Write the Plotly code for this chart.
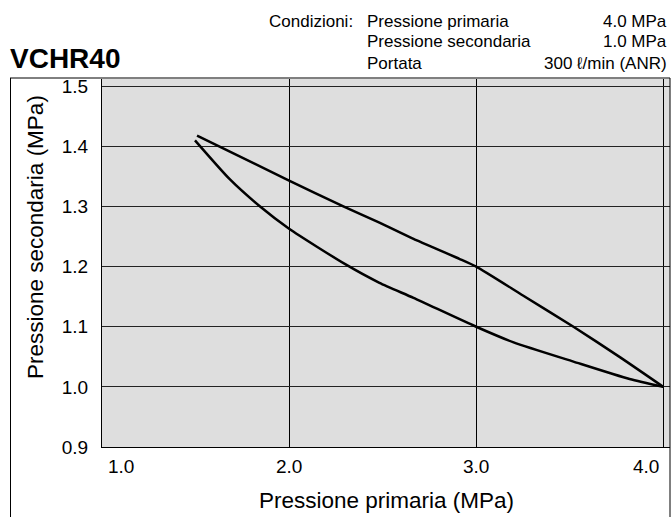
import plotly.graph_objects as go

# Data
upper_x = [1.508, 2.0, 2.29, 2.483, 2.665, 2.91, 3.0, 3.25, 3.52, 3.77, 4.0]
upper_y = [1.418, 1.343, 1.300, 1.273, 1.246, 1.213, 1.200, 1.152, 1.100, 1.049, 1.000]
lower_x = [1.497, 1.684, 1.845, 2.0, 2.30, 2.483, 2.665, 3.0, 3.2, 3.52, 3.82, 4.0]
lower_y = [1.410, 1.345, 1.300, 1.263, 1.204, 1.173, 1.148, 1.100, 1.074, 1.042, 1.013, 1.000]

x_ticks = [1.0, 2.0, 3.0, 4.0]
x_tick_labels = ["1.0", "2.0", "3.0", "4.0"]
y_ticks = [0.9, 1.0, 1.1, 1.2, 1.3, 1.4, 1.5]
y_tick_labels = ["0.9", "1.0", "1.1", "1.2", "1.3", "1.4", "1.5"]

title_text = "VCHR40"
cond_label = "Condizioni:"
cond_names = ["Pressione primaria", "Pressione secondaria", "Portata"]
cond_values = ["4.0 MPa", "1.0 MPa", "300 \u2113/min (ANR)"]
x_title = "Pressione primaria (MPa)"
y_title = "Pressione secondaria (MPa)"

FONT = "Liberation Sans, Arial, Helvetica, sans-serif"

fig = go.Figure()
for xs, ys in [(upper_x, upper_y), (lower_x, lower_y)]:
    fig.add_trace(go.Scatter(x=xs, y=ys, mode="lines",
                             line=dict(color="black", width=2.5, shape="spline", smoothing=0.6),
                             showlegend=False, hoverinfo="skip"))

W, H = 672, 517
L, R, T, B = 102, 2, 79, 70
pw, ph = W - L - R, H - T - B

def px(xp):
    return (xp - L) / pw

def py(yp):
    return (H - B - yp) / ph

annotations = []
# x tick labels
for v, lab in zip(x_ticks, x_tick_labels):
    if v == x_ticks[0]:
        anchor, shift = "left", 4
    elif v == x_ticks[-1]:
        anchor, shift = "right", -2
    else:
        anchor, shift = "center", 0
    annotations.append(dict(x=v, y=py(466), xref="x", yref="paper", text=lab,
                            showarrow=False, xanchor=anchor, yanchor="middle", xshift=shift,
                            font=dict(size=19, color="black", family=FONT)))
# axis titles
annotations.append(dict(x=px(386), y=py(500), xref="paper", yref="paper", text=x_title,
                        showarrow=False, xanchor="center", yanchor="middle",
                        font=dict(size=22.5, color="black", family=FONT)))
annotations.append(dict(x=px(35), y=py(237), xref="paper", yref="paper", text=y_title,
                        showarrow=False, xanchor="center", yanchor="middle", textangle=-90,
                        font=dict(size=22.5, color="black", family=FONT)))
# title
annotations.append(dict(x=px(8), y=py(59), xref="paper", yref="paper", text="<b>" + title_text + "</b>",
                        showarrow=False, xanchor="left", yanchor="middle",
                        font=dict(size=28, color="black", family=FONT)))
# conditions block
row_y = [21, 42, 63]
annotations.append(dict(x=px(267), y=py(row_y[0]), xref="paper", yref="paper", text=cond_label,
                        showarrow=False, xanchor="left", yanchor="middle",
                        font=dict(size=17, color="black", family=FONT)))
for yy, nm, val in zip(row_y, cond_names, cond_values):
    annotations.append(dict(x=px(365), y=py(yy), xref="paper", yref="paper", text=nm,
                            showarrow=False, xanchor="left", yanchor="middle",
                            font=dict(size=17, color="black", family=FONT)))
    annotations.append(dict(x=px(669), y=py(yy), xref="paper", yref="paper", text=val,
                            showarrow=False, xanchor="right", yanchor="middle",
                            font=dict(size=17, color="black", family=FONT)))

shapes = [
    # outer frame (top, left, right)
    dict(type="line", xref="paper", yref="paper", x0=px(10), x1=px(670), y0=py(78), y1=py(78),
         line=dict(color="black", width=1)),
    dict(type="line", xref="paper", yref="paper", x0=px(10.5), x1=px(10.5), y0=py(78), y1=py(530),
         line=dict(color="black", width=1)),
    dict(type="line", xref="paper", yref="paper", x0=px(670), x1=px(670), y0=py(78), y1=py(530),
         line=dict(color="black", width=1)),
]

fig.update_layout(
    width=W, height=H,
    margin=dict(l=L, r=R, t=T, b=B),
    paper_bgcolor="white",
    plot_bgcolor="#dedede",
    font=dict(family=FONT, color="black"),
    annotations=annotations,
    shapes=shapes,
    xaxis=dict(range=[1.0, 4.036], tickvals=x_ticks, showticklabels=False,
               showgrid=True, gridcolor="black", gridwidth=1, zeroline=False,
               showline=True, linecolor="black", linewidth=1, ticks=""),
    yaxis=dict(range=[0.9, 1.512], tickvals=y_ticks, ticktext=y_tick_labels,
               tickfont=dict(size=19, color="black", family=FONT),
               showgrid=True, gridcolor="#222222", gridwidth=1.2, zeroline=False,
               showline=True, linecolor="black", linewidth=1, ticks="",
               ticklabelstandoff=9),
)

fig.write_html("out.html", config={"displayModeBar": False},
               post_script="document.body.style.margin='0';document.body.style.padding='0';")
